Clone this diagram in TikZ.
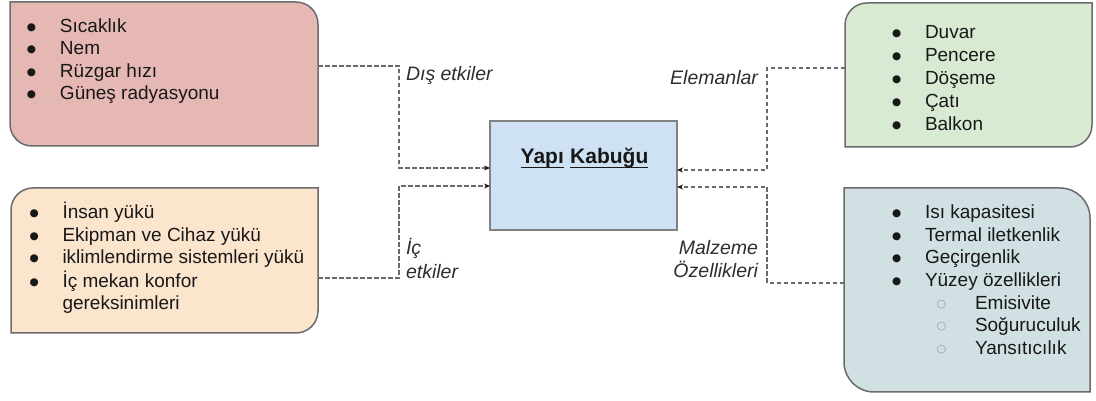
\documentclass[tikz,border=0pt]{standalone}
\usepackage{fontspec}
\setmainfont{Liberation Sans}
\newfontfamily\symfont{DejaVu Sans}
\usetikzlibrary{arrows.meta}

\definecolor{ink}{HTML}{181818}
\definecolor{labelink}{HTML}{2E2E2E}
\definecolor{edge}{HTML}{6B6B6B}
\definecolor{linkgray}{HTML}{6A6A6A}
\definecolor{redfill}{HTML}{E6B8B3}
\definecolor{orangefill}{HTML}{FCE5CD}
\definecolor{greenfill}{HTML}{D9EAD3}
\definecolor{tealfill}{HTML}{D0E0E3}
\definecolor{bluefill}{HTML}{CFE2F3}
\definecolor{subbullet}{HTML}{999999}

% box with rounded top-right and bottom-left corners
\newcommand\boxTRBL[3]{%
  \draw[boxedge,fill=#2] (#1.north west) -- ([xshift=-#3]#1.north east)
    arc[start angle=90,end angle=0,radius=#3] -- (#1.south east)
    -- ([xshift=#3]#1.south west)
    arc[start angle=270,end angle=180,radius=#3] -- cycle;}
% box with rounded top-left and bottom-right corners
\newcommand\boxTLBR[3]{%
  \draw[boxedge,fill=#2] ([xshift=#3]#1.north west) -- (#1.north east)
    -- ([yshift=#3]#1.south east)
    arc[start angle=0,end angle=-90,radius=#3] -- (#1.south west)
    -- ([yshift=-#3]#1.north west)
    arc[start angle=180,end angle=90,radius=#3] -- cycle;}

\newcommand\bigbullet{\raisebox{2pt}{\symfont\fontsize{10.5}{10.5}\selectfont●}}
\newcommand\itm[1]{\makebox[33pt][l]{\bigbullet}#1}
\newcommand\subitm[1]{\makebox[50pt][l]{\hspace*{11.5pt}\raisebox{2pt}{\symfont\fontsize{11}{11}\selectfont\color{subbullet}○}}#1}
% a word with an underline at a fixed depth
\newsavebox\ulbox
\newcommand\ulword[1]{\sbox\ulbox{#1}\rlap{\rule[-4.5pt]{\wd\ulbox}{1.3pt}}\usebox\ulbox}

\begin{document}
\begin{tikzpicture}[x=1pt,y=1pt,
  frame/.style={rectangle,draw=none,inner sep=0pt,outer sep=0pt},
  boxedge/.style={draw=edge,line width=1.5pt},
  list/.style={inner sep=0pt,outer sep=0pt,anchor=base west,text=ink,
    font=\fontsize{19}{22.5}\selectfont},
  lbl/.style={inner sep=0pt,outer sep=0pt,text=labelink,
    font=\fontsize{19.5}{24}\selectfont\itshape},
  link/.style={draw=linkgray,line width=1.3pt,dash pattern=on 4.5pt off 2.5pt,
    -{Stealth[length=6pt,width=5pt,color=ink]}}]

\fill[white] (0,0) rectangle (1096,401);
\useasboundingbox (0,0) rectangle (1096,401);

% outer boxes
\node[frame,minimum width=308pt,minimum height=144pt] (dis) at (164,327) {};
\node[frame,minimum width=307pt,minimum height=145pt] (ic) at (164.5,140.5) {};
\node[frame,minimum width=247pt,minimum height=144pt] (el) at (968.5,326) {};
\node[frame,minimum width=246pt,minimum height=204pt] (mz) at (967,111) {};

\boxTRBL{dis}{redfill}{22pt}
\boxTLBR{ic}{orangefill}{22pt}
\boxTLBR{el}{greenfill}{22pt}
\boxTRBL{mz}{tealfill}{30pt}

% central box
\node[draw=edge!85,fill=bluefill,line width=1.5pt,inner sep=0pt,outer sep=0pt,
  minimum width=187pt,minimum height=109pt] (yk) at (583.5,225.5) {};
\node[inner sep=0pt,anchor=base,text=ink,font=\fontsize{21}{25}\selectfont\bfseries]
  (yktitle) at (584.5,237) {\ulword{Yapı}\hspace{0.3em}\ulword{Kabuğu}};

% lists
\node[list] (dislist) at (27,368.5) {\begin{tabular}[t]{@{}l@{}}
  \itm{Sıcaklık}\\ \itm{Nem}\\ \itm{Rüzgar hızı}\\ \itm{Güneş radyasyonu}
  \end{tabular}};
\node[list] (iclist) at (29.5,182) {\begin{tabular}[t]{@{}l@{}}
  \itm{İnsan yükü}\\ \itm{Ekipman ve Cihaz yükü}\\ \itm{iklimlendirme sistemleri yükü}\\
  \itm{İç mekan konfor}\\ \makebox[33pt]{}gereksinimleri
  \end{tabular}};
\node[list,font=\fontsize{19}{23}\selectfont] (ellist) at (892,362.5) {\begin{tabular}[t]{@{}l@{}}
  \itm{Duvar}\\ \itm{Pencere}\\ \itm{Döşeme}\\ \itm{Çatı}\\ \itm{Balkon}
  \end{tabular}};
\node[list,font=\fontsize{19}{22.7}\selectfont] (mzlist) at (892,182.5) {\begin{tabular}[t]{@{}l@{}}
  \itm{Isı kapasitesi}\\ \itm{Termal iletkenlik}\\ \itm{Geçirgenlik}\\ \itm{Yüzey özellikleri}\\
  \makebox[33pt]{}\subitm{Emisivite}\\ \makebox[33pt]{}\subitm{Soğuruculuk}\\
  \makebox[33pt]{}\subitm{Yansıtıcılık}
  \end{tabular}};

% connector labels
\node[lbl,anchor=base west] (ldis) at (406,320) {Dış etkiler};
\node[lbl,anchor=base east] (lel) at (758,316) {Elemanlar};
\node[lbl,anchor=base west] (lic) at (406,146) {\begin{tabular}[t]{@{}l@{}}İç\\ etkiler\end{tabular}};
\node[lbl,anchor=base east,font=\fontsize{19.5}{22}\selectfont\itshape] (lmz) at (758,146)
  {\begin{tabular}[t]{@{}r@{}}Malzeme\\ Özellikleri\end{tabular}};

% connectors
\coordinate (lx) at (399,0);
\coordinate (rx) at (767,0);
\coordinate (ykA) at ([yshift=7.5pt]yk.west);
\coordinate (ykB) at ([yshift=-10.5pt]yk.west);
\coordinate (ykC) at ([yshift=5.5pt]yk.east);
\coordinate (ykD) at ([yshift=-11.5pt]yk.east);

\draw[link] ([yshift=8pt]dis.east) -| (ykA -| lx) -- (ykA);
\draw[link] ([yshift=-17.5pt]ic.east) -| (ykB -| lx) -- (ykB);
\draw[link] ([yshift=7pt]el.west) -| (ykC -| rx) -- (ykC);
\draw[link] ([yshift=7pt]mz.west) -| (ykD -| rx) -- (ykD);
\end{tikzpicture}
\end{document}
